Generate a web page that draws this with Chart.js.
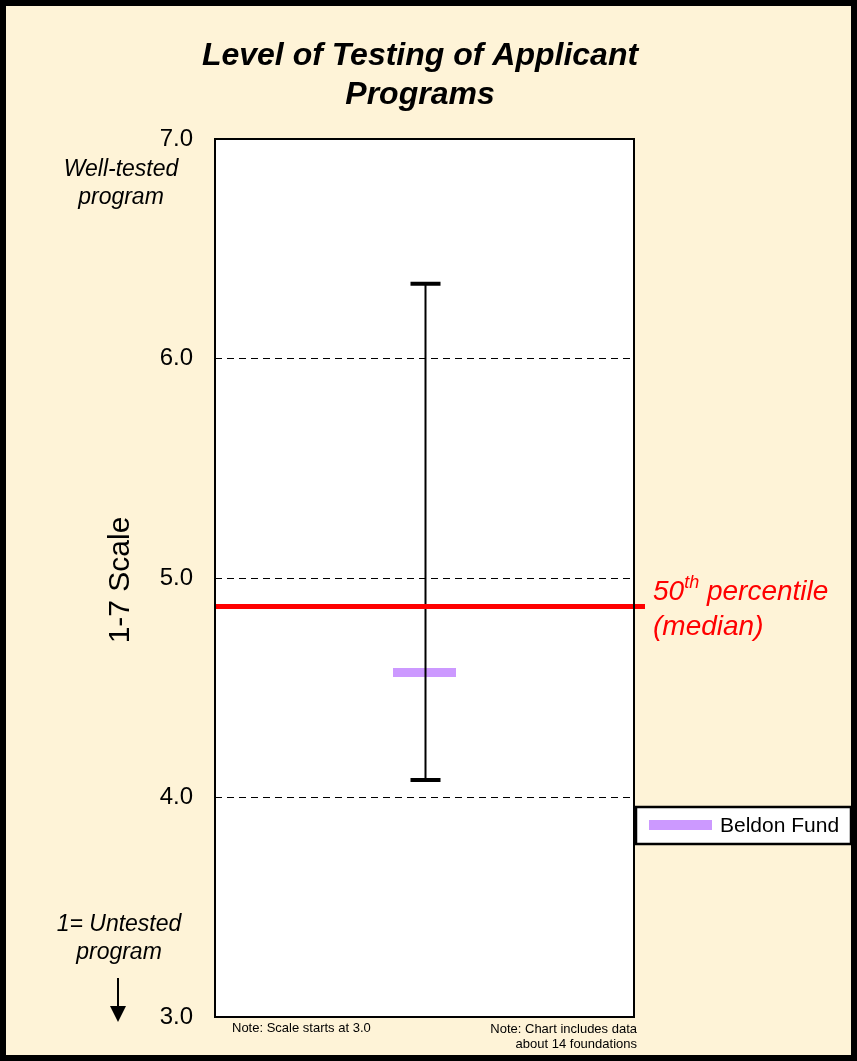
<!DOCTYPE html>
<html>
<head>
<meta charset="utf-8">
<script src="https://cdn.jsdelivr.net/npm/chart.js@4"></script>
<style>
  body { margin: 0; background: #000; }
  canvas { display: block; }
</style>
</head>
<body>
<canvas id="testing-chart" width="857" height="1061"></canvas>
<script>
const CREAM = '#FEF3D7'
const PURPLE = '#CC99FF'
const RED = '#FF0000'
const FONT = '"Liberation Sans", Arial, sans-serif'

// data
const categories = ['Beldon Fund']
const beldonScore = [4.57]
const rangeLow = [4.08]
const rangeHigh = [6.34]
const medianValue = [4.87]
const yTicks = [3, 4, 5, 6, 7]

const decorations = {
    id: 'decorations',
    beforeDraw(chart) {
        const ctx = chart.ctx
        const area = chart.chartArea
        ctx.save()
        // outer frame + cream background
        ctx.fillStyle = '#000'
        ctx.fillRect(0, 0, chart.width, chart.height)
        ctx.fillStyle = CREAM
        ctx.fillRect(6, 6, chart.width - 12, chart.height - 12)
        // plot area
        ctx.fillStyle = '#fff'
        ctx.fillRect(area.left, area.top, area.right - area.left, area.bottom - area.top)
        ctx.restore()
    },
    afterDatasetsDraw(chart) {
        const ctx = chart.ctx
        const area = chart.chartArea
        const x = chart.scales.x
        const y = chart.scales.y
        ctx.save()

        // min/max whisker
        const cx = Math.round(x.getPixelForValue(0)) + 0.5
        const yLo = y.getPixelForValue(rangeLow[0])
        const yHi = y.getPixelForValue(rangeHigh[0])
        ctx.strokeStyle = '#000'
        ctx.lineWidth = 2
        ctx.beginPath()
        ctx.moveTo(cx, yHi)
        ctx.lineTo(cx, yLo)
        ctx.stroke()
        ctx.lineWidth = 4
        ctx.beginPath()
        ctx.moveTo(cx - 15, yHi)
        ctx.lineTo(cx + 15, yHi)
        ctx.moveTo(cx - 15, yLo)
        ctx.lineTo(cx + 15, yLo)
        ctx.stroke()

        // median line
        const ym = y.getPixelForValue(medianValue[0])
        ctx.strokeStyle = RED
        ctx.lineWidth = 5
        ctx.beginPath()
        ctx.moveTo(area.left, ym)
        ctx.lineTo(area.right + 11, ym)
        ctx.stroke()
        ctx.restore()
    },
    afterDraw(chart) {
        const ctx = chart.ctx
        const area = chart.chartArea
        ctx.save()

        // plot border
        ctx.strokeStyle = '#000'
        ctx.lineWidth = 2
        ctx.strokeRect(area.left, area.top, area.right - area.left, area.bottom - area.top)

        ctx.fillStyle = '#000'
        ctx.textAlign = 'center'
        ctx.textBaseline = 'middle'

        // title
        ctx.font = 'italic bold 32px ' + FONT
        ctx.fillText('Level of Testing of Applicant', 420, 56)
        ctx.fillText('Programs', 420, 95)

        // scale end labels
        ctx.font = 'italic 23px ' + FONT
        ctx.fillText('Well-tested', 121, 170)
        ctx.fillText('program', 121, 198)
        ctx.fillText('1= Untested', 119, 925)
        ctx.fillText('program', 119, 953)

        // down arrow
        ctx.lineWidth = 2
        ctx.beginPath()
        ctx.moveTo(118, 978)
        ctx.lineTo(118, 1008)
        ctx.stroke()
        ctx.beginPath()
        ctx.moveTo(110, 1006)
        ctx.lineTo(126, 1006)
        ctx.lineTo(118, 1022)
        ctx.closePath()
        ctx.fill()

        // axis title
        ctx.save()
        ctx.translate(121, 580)
        ctx.rotate(-Math.PI / 2)
        ctx.font = '30px ' + FONT
        ctx.fillText('1-7 Scale', 0, 0)
        ctx.restore()

        // notes
        ctx.font = '13px ' + FONT
        ctx.textAlign = 'left'
        ctx.fillText('Note: Scale starts at 3.0', 232, 1028)
        ctx.textAlign = 'right'
        ctx.fillText('Note: Chart includes data', 637, 1029)
        ctx.fillText('about 14 foundations', 637, 1044)

        // median label
        ctx.fillStyle = RED
        ctx.textAlign = 'left'
        ctx.font = 'italic 28px ' + FONT
        ctx.fillText('50', 653, 592)
        let w = ctx.measureText('50').width
        ctx.font = 'italic 18px ' + FONT
        ctx.fillText('th', 653 + w, 583)
        w += ctx.measureText('th').width
        ctx.font = 'italic 28px ' + FONT
        ctx.fillText(' percentile', 653 + w, 592)
        ctx.fillText('(median)', 653, 627)

        // legend
        ctx.fillStyle = '#fff'
        ctx.fillRect(636, 807, 215, 37)
        ctx.strokeStyle = '#000'
        ctx.lineWidth = 2.5
        ctx.strokeRect(636, 807, 215, 37)
        ctx.fillStyle = PURPLE
        ctx.fillRect(649, 820, 63, 10)
        ctx.fillStyle = '#000'
        ctx.font = '21px ' + FONT
        ctx.fillText(categories[0], 720, 826)

        ctx.restore()
    }
}

new Chart(document.getElementById('testing-chart').getContext('2d'), {
    type: 'line',
    data: {
        labels: categories,
        datasets: [
            {
                label: categories[0],
                data: beldonScore,
                showLine: false,
                pointStyle: 'line',
                pointRadius: 31.5,
                pointBorderWidth: 9,
                borderColor: PURPLE,
                backgroundColor: PURPLE,
            }
        ]
    },
    options: {
        responsive: false,
        devicePixelRatio: 1,
        animation: false,
        events: [],
        layout: {
            padding: { left: 0, top: 139, right: 223, bottom: 44 }
        },
        scales: {
            x: {
                display: false,
                offset: true,
            },
            y: {
                min: 3,
                max: 7,
                afterFit: function (scale) {
                    scale.width = 215
                },
                afterBuildTicks: function (scale) {
                    scale.ticks = yTicks.map(v => ({ value: v }))
                },
                grid: {
                    drawTicks: false,
                    color: function (context) {
                        const v = context.tick.value
                        return (v === 3 || v === 7) ? 'rgba(0,0,0,0)' : '#000'
                    },
                    lineWidth: 1,
                },
                border: { display: false, dash: [7, 5] },
                ticks: {
                    padding: 22,
                    color: '#000',
                    font: { family: FONT, size: 24 },
                    callback: function (value) {
                        return value.toFixed(1)
                    }
                }
            }
        },
        plugins: {
            legend: { display: false },
            tooltip: { enabled: false },
        }
    },
    plugins: [decorations]
});
</script>
</body>
</html>
